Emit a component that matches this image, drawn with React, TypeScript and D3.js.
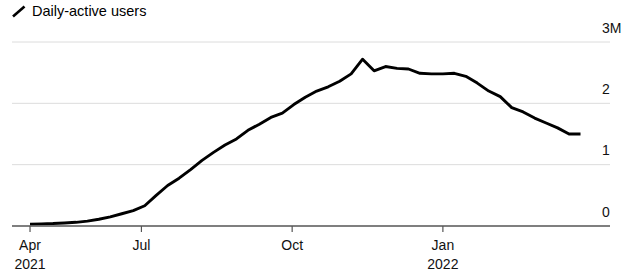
import React from "react";
import * as d3 from "d3";

const startDate = "2021-04-24";
const weeklyValues = [
  0.03, 0.035, 0.04, 0.05, 0.06, 0.08, 0.11, 0.15, 0.2, 0.25,
  0.33, 0.5, 0.66, 0.78, 0.92, 1.07, 1.2, 1.32, 1.42, 1.56,
  1.66, 1.77, 1.84, 1.98, 2.1, 2.2, 2.27, 2.36, 2.48, 2.72,
  2.53, 2.6, 2.57, 2.56, 2.49, 2.48, 2.48, 2.49, 2.44, 2.33,
  2.2, 2.11, 1.93, 1.86, 1.76, 1.68, 1.6, 1.5, 1.5,
];
const xTickDates = ["2021-04-24", "2021-07-01", "2021-10-01", "2022-01-01"];
const xTickMonths = ["Apr", "Jul", "Oct", "Jan"];
const xTickYears = ["2021", "", "", "2022"];
const yTicks = [0, 1, 2, 3];
const yTickLabels = ["0", "1", "2", "3M"];
const legendLabel = "Daily-active users";

const W = 635;
const H = 277;
const font = "'Liberation Sans', Arial, Helvetica, sans-serif";

export default function App() {
  const parse = d3.utcParse("%Y-%m-%d");
  const start = parse(startDate)!;
  const data = weeklyValues.map((v, i) => ({ date: d3.utcDay.offset(start, i * 7), value: v }));

  const x = d3
    .scaleUtc()
    .domain([parse("2021-04-13")!, parse("2022-04-13")!])
    .range([12, 610]);
  const y = d3.scaleLinear().domain([0, 3]).range([226, 42]);

  const line = d3
    .line<{ date: Date; value: number }>()
    .x((d) => x(d.date))
    .y((d) => y(d.value));

  return (
    <svg
      width={W}
      height={H}
      style={{ position: "absolute", left: 0, top: 0, background: "#fff" }}
      fontFamily={font}
    >
      {/* legend */}
      <line x1={13} y1={16.5} x2={24.5} y2={6.5} stroke="#000" strokeWidth={2.6} />
      <text x={32} y={16} fontSize={14.5} fill="#000">
        {legendLabel}
      </text>

      {/* gridlines */}
      {yTicks
        .filter((t) => t !== 0)
        .map((t) => (
          <line key={t} x1={12} x2={610} y1={y(t)} y2={y(t)} stroke="#dcdcdc" strokeWidth={1} />
        ))}

      {/* y labels */}
      {yTicks.map((t, i) => (
        <text key={t} x={602} y={y(t) - 9.5} fontSize={14} fill="#111">
          {yTickLabels[i]}
        </text>
      ))}

      {/* data line */}
      <path
        d={line(data) || ""}
        fill="none"
        stroke="#000"
        strokeWidth={2.9}
        strokeLinejoin="round"
        strokeLinecap="butt"
      />

      {/* x axis */}
      <line x1={12} x2={610} y1={y(0)} y2={y(0)} stroke="#555" strokeWidth={1.5} />
      {xTickDates.map((ds, i) => {
        const xx = x(parse(ds)!);
        return (
          <g key={ds}>
            <line x1={xx} x2={xx} y1={y(0)} y2={y(0) + 6} stroke="#555" strokeWidth={1.2} />
            <text x={xx} y={249.5} fontSize={14} textAnchor="middle" fill="#111">
              {xTickMonths[i]}
            </text>
            {xTickYears[i] && (
              <text x={xx} y={268.5} fontSize={14} textAnchor="middle" fill="#111">
                {xTickYears[i]}
              </text>
            )}
          </g>
        );
      })}
    </svg>
  );
}
